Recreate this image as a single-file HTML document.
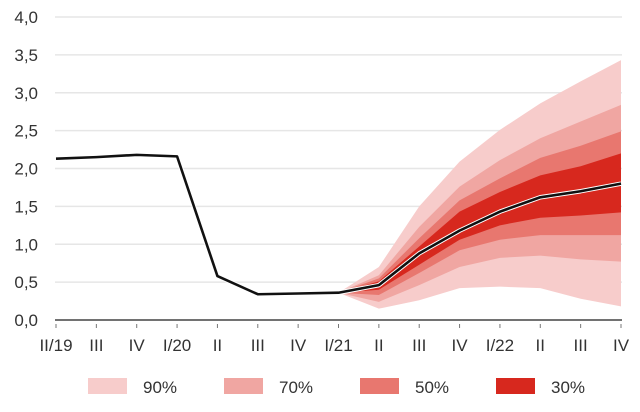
<!DOCTYPE html>
<html><head><meta charset="utf-8"><style>
body{margin:0;background:#fff;}
svg{display:block;font-family:"Liberation Sans",sans-serif;}
</style></head><body>
<svg id="chart" width="640" height="412" viewBox="0 0 640 412">
<g id="grid"></g>
<g id="yaxis"></g>
<g id="bands"></g>
<g id="line"></g>
<g id="xaxis"></g>
<g id="legend"></g>
</svg>
<script>
const categories=["II/19","III","IV","I/20","II","III","IV","I/21","II","III","IV","I/22","II","III","IV"];
const values=[2.13,2.15,2.18,2.16,0.58,0.34,0.35,0.36,0.46,0.88,1.18,1.43,1.62,1.70,1.80];
const yTicks=[0,0.5,1,1.5,2,2.5,3,3.5,4];
const yTickLabels=["0,0","0,5","1,0","1,5","2,0","2,5","3,0","3,5","4,0"];
// bands start at index 7 (I/21)
const bandStart=7;
const band90Hi=[0.36,0.70,1.50,2.09,2.51,2.86,3.15,3.43];
const band90Lo=[0.36,0.15,0.26,0.42,0.44,0.42,0.28,0.18];
const band70Hi=[0.36,0.59,1.23,1.76,2.11,2.40,2.62,2.84];
const band70Lo=[0.36,0.24,0.46,0.70,0.82,0.85,0.80,0.77];
const band50Hi=[0.36,0.55,1.08,1.58,1.87,2.14,2.30,2.49];
const band50Lo=[0.36,0.33,0.62,0.92,1.06,1.12,1.12,1.12];
const band30Hi=[0.36,0.51,0.97,1.43,1.69,1.91,2.03,2.20];
const band30Lo=[0.36,0.40,0.73,1.06,1.25,1.35,1.38,1.42];
const legendLabels=["90%","70%","50%","30%"];
const colors=["#f7cccb","#f0a6a2","#e8776f","#d7281e"];

const NS="http://www.w3.org/2000/svg";
const X0=56,X1=621,Y0=320,YPU=75.75;
const xs=i=>X0+i*(X1-X0)/(categories.length-1);
const ys=v=>Y0-v*YPU;
function mk(tag,attrs,parent){const e=document.createElementNS(NS,tag);for(const k in attrs)e.setAttribute(k,attrs[k]);parent.appendChild(e);return e;}
const grid=document.getElementById('grid'),yax=document.getElementById('yaxis');
yTicks.forEach((t,i)=>{
  if(t>0){const l=mk('line',{x1:X0-1,x2:622,y1:ys(t),y2:ys(t),stroke:'#e6e6e6','stroke-width':1.5},grid);
  
  }
  const tx=mk('text',{x:38,y:ys(t)+6,'text-anchor':'end','font-size':17,fill:'#333'},yax);
  tx.textContent=yTickLabels[i];
  
  
});
const bands=document.getElementById('bands');
[[band90Hi,band90Lo],[band70Hi,band70Lo],[band50Hi,band50Lo],[band30Hi,band30Lo]].forEach((b,k)=>{
  let pts=[];
  b[0].forEach((v,i)=>pts.push(xs(bandStart+i)+','+ys(v)));
  for(let i=b[1].length-1;i>=0;i--)pts.push(xs(bandStart+i)+','+ys(b[1][i]));
  const p=mk('polygon',{points:pts.join(' '),fill:colors[k]},bands);
  
  
});
const lg=document.getElementById('line');
const d=values.map((v,i)=>(i?'L':'M')+xs(i)+','+ys(v)).join(' ');
const halo=mk('path',{d:d,fill:'none',stroke:'#fff','stroke-width':4.5,'stroke-linejoin':'round'},lg);


const ln=mk('path',{d:d,fill:'none',stroke:'#111','stroke-width':2.6,'stroke-linejoin':'round'},lg);


const xa=document.getElementById('xaxis');
const axl=mk('line',{x1:55,x2:622,y1:Y0,y2:Y0,stroke:'#444','stroke-width':1.5},xa);


categories.forEach((c,i)=>{
  const tk=mk('line',{x1:xs(i),x2:xs(i),y1:Y0+4,y2:Y0+8,stroke:'#777','stroke-width':1},xa);
  
  
  const t=mk('text',{x:xs(i),y:Y0+31,'text-anchor':'middle','font-size':17,fill:'#333'},xa);
  t.textContent=c;
  
  
});
const leg=document.getElementById('legend');
const lx=[88,224,360,496];
legendLabels.forEach((s,k)=>{
  const r=mk('rect',{x:lx[k],y:378,width:39,height:16,fill:colors[k]},leg);
  
  
  const t=mk('text',{x:lx[k]+55,y:393,'font-size':17,fill:'#333'},leg);
  t.textContent=s;
  
  
});
</script>
</body></html>
